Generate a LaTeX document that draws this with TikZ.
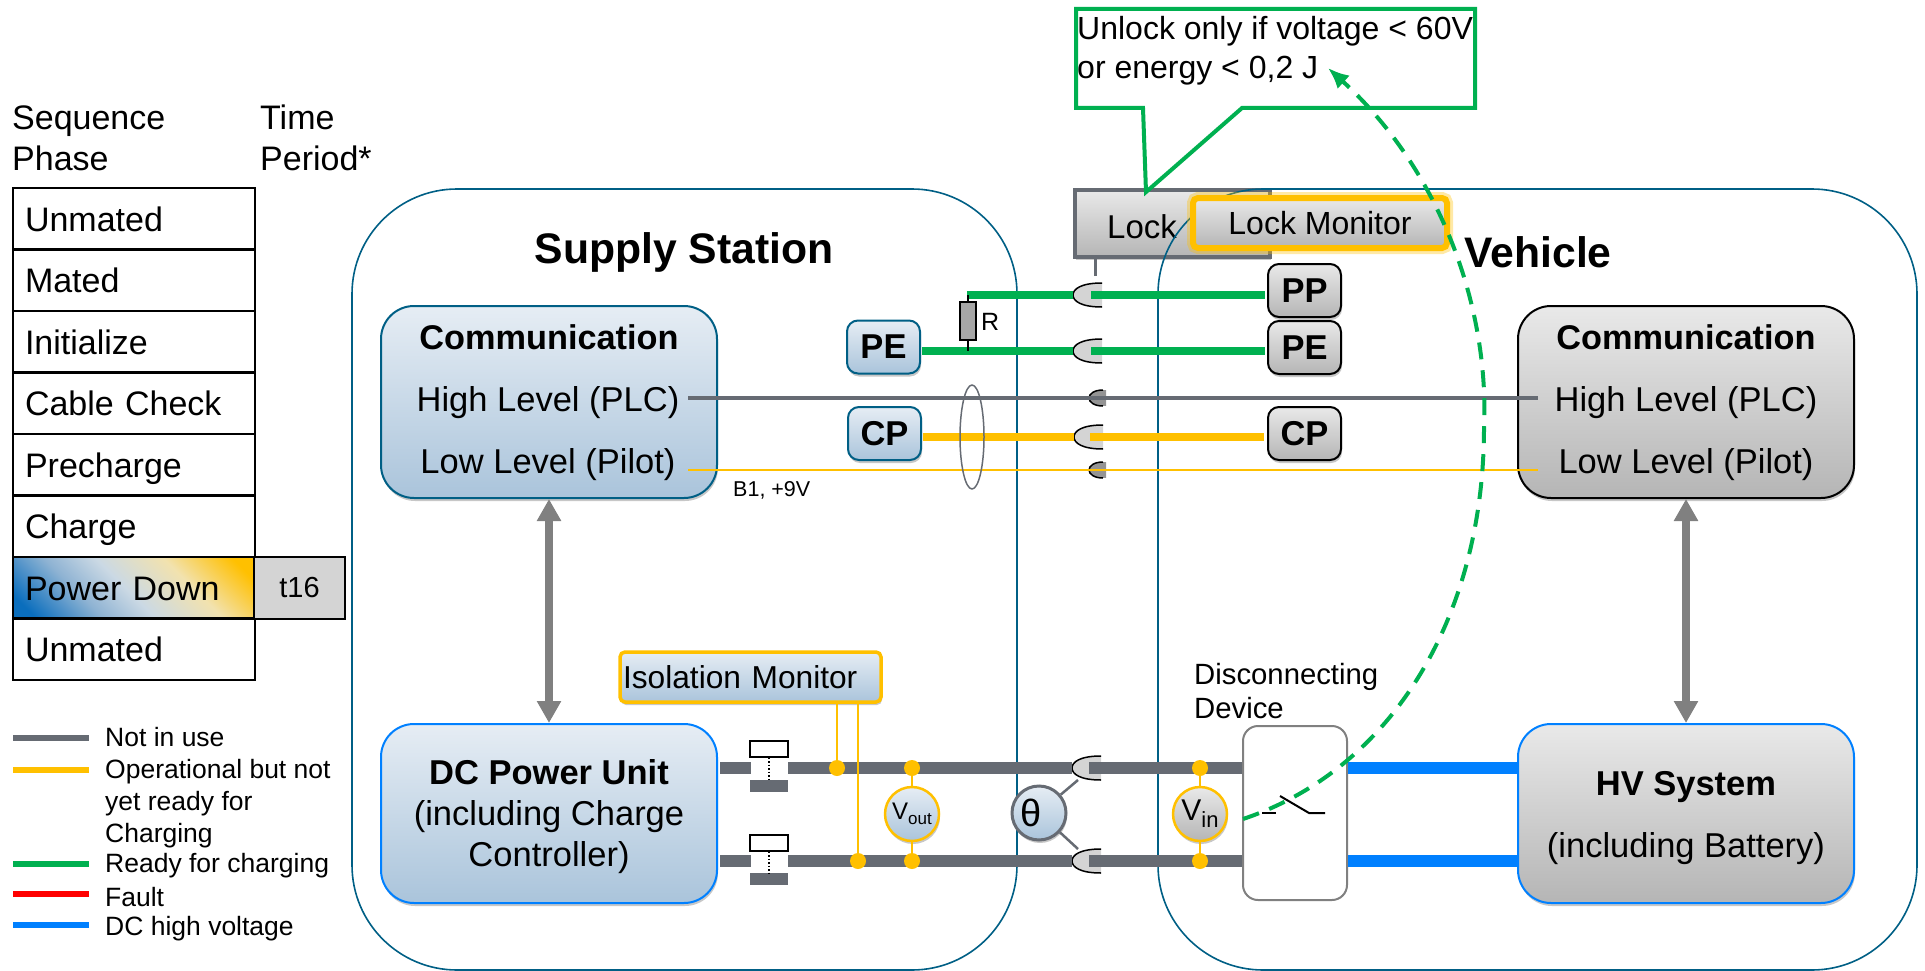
\documentclass[tikz,border=0pt]{standalone}
\usepackage{fontspec}
\setmainfont{Liberation Sans}
\usetikzlibrary{shadows,arrows.meta,shapes.geometric}
\newcommand{\fsize}[1]{\fontsize{#1}{#1}\selectfont}
\definecolor{okgreen}{HTML}{00B050}
\definecolor{opyellow}{HTML}{FFC000}
\definecolor{dcblue}{HTML}{0080FF}
\definecolor{idlegray}{HTML}{666B73}
\definecolor{stationline}{HTML}{005F85}
\definecolor{boxtop}{HTML}{E6EDF4}
\definecolor{boxbot}{HTML}{AAC4DB}
\definecolor{graytop}{HTML}{E9E9E9}
\definecolor{graybot}{HTML}{B5B5B5}
\definecolor{fadeblue}{HTML}{0A6EBD}
\definecolor{fadesky}{HTML}{8FB3D3}
\definecolor{fademid}{HTML}{CBD9E4}
\definecolor{fadecream}{HTML}{F2E2AE}
\pgfdeclarehorizontalshading{powerfade}{100bp}{color(0bp)=(fadeblue); color(20bp)=(fadeblue); color(36bp)=(fadesky); color(48bp)=(fademid); color(64bp)=(fadecream); color(80bp)=(opyellow); color(100bp)=(opyellow)}
\tikzset{x=1pt,y=-1pt,
         softshadow/.style={drop shadow={shadow xshift=1pt,shadow yshift=-3pt,opacity=.22,fill=black}},
         bluefill/.style={top color=boxtop,bottom color=boxbot},
         grayfill/.style={top color=graytop,bottom color=graybot},
         station/.style={draw=stationline,line width=1.6pt,rounded corners=105pt},
         mainbox/.style={rectangle,line width=2pt,rounded corners=33pt,minimum width=336pt,softshadow,align=center},
         pinbox/.style={rectangle,line width=2pt,rounded corners=11pt,minimum width=73pt,minimum height=53pt,
                        font=\fsize{34.5}\bfseries,softshadow},
         seqrow/.style={rectangle,draw=black,line width=2pt,minimum width=242pt,minimum height=61.5pt,
                        text width=218pt,text height=24pt,text depth=0pt,inner xsep=12pt,align=left,anchor=west,font=\fsize{34}},
         plain/.style={inner sep=0pt,anchor=west,align=left},
         thickline/.style={line width=8pt},
         powerline/.style={line width=12pt,draw=idlegray},
         sense/.style={draw=opyellow,line width=2.5pt},
         joint/.style={circle,fill=opyellow,minimum size=16pt,inner sep=0pt},
         meter/.style={circle,line width=2.5pt,minimum size=54pt,inner sep=0pt,softshadow},
         bigarrow/.style={{Triangle[length=22pt,width=23pt]}-{Triangle[length=22pt,width=23pt]},line width=8pt,black!50},
         plug/.pic={\fill[black!17] (29,-12) .. controls (8,-12) and (0,-6) .. (0,0) .. controls (0,6) and (8,12) .. (29,12) -- cycle;
                    \draw[line width=1.5pt] (29,-12) .. controls (8,-12) and (0,-6) .. (0,0) .. controls (0,6) and (8,12) .. (29,12);},
         smallplug/.pic={\fill[black!42] (17,-8) .. controls (5,-8) and (0,-4) .. (0,0) .. controls (0,4) and (5,8) .. (17,8) -- cycle;
                    \draw[line width=1.5pt] (14,-8) .. controls (5,-8) and (0,-4) .. (0,0) .. controls (0,4) and (5,8) .. (14,8);}}
\begin{document}
\begin{tikzpicture}
    \useasboundingbox (0,0) rectangle (1925,971);

    % sequence table
    \node[plain,font=\fsize{34}] (headA) at (12,138) {Sequence\\[7pt]Phase};
    \node[plain,font=\fsize{34}] (headB) at (260,138) {Time\\[7pt]Period*};
    \node[seqrow] (rowA) at (12,219) {Unmated}; \node[seqrow] (rowB) at (12,280) {Mated};
    \node[seqrow] (rowC) at (12,342) {Initialize}; \node[seqrow] (rowD) at (12,403) {Cable Check};
    \node[seqrow] (rowE) at (12,465) {Precharge}; \node[seqrow] (rowF) at (12,526) {Charge};
    \node[seqrow,shade,shading=powerfade,shading angle=45] (rowG) at (12,588) {Power Down};
    \node[seqrow] (rowH) at (12,649) {Unmated};
    \node[rectangle,draw=black,line width=2pt,fill=black!17,minimum width=91pt,minimum height=61.5pt,font=\fsize{29}] (timeG) at (299.5,588) {t16};

    % legend
    \foreach \n/\y/\c in {a/738/idlegray,b/770/opyellow,c/864/okgreen,d/894/red,e/925/dcblue}{
      \coordinate (leg\n L) at (13,\y); \coordinate (leg\n R) at (89,\y);
      \draw[\c,line width=6pt] (leg\n L) -- (leg\n R);
    }
    \node[plain,font=\fsize{26.5}] (legTa) at (105,737) {Not in use};
    \node[plain,font=\fsize{26.5}] (legTb) at (105,804) {Operational but not\\[5.5pt]yet ready for\\[5.5pt]Charging};
    \node[plain,font=\fsize{26.5}] (legTc) at (105,866) {Ready for charging};
    \node[plain,font=\fsize{26.5}] (legTd) at (105,897) {Fault};
    \node[plain,font=\fsize{26.5}] (legTe) at (105,929) {DC high voltage};

    % lock sits behind the vehicle outline
    \node[rectangle,draw=idlegray,line width=4.5pt,top color=graytop,bottom color=graybot,minimum width=195pt,minimum height=67pt,softshadow] (lock) at (1172.5,223.5) {};
    \node[font=\fsize{33}] (lockT) at (1142,227) {Lock};
    \coordinate (lockStem) at (1095,276);
    \draw[idlegray,line width=3pt] (lockStem) -- (1095,257);

    % stations
    \draw[station] (352,189) rectangle (1017,970);
    \draw[station] (1158,189) rectangle (1917,970);
    \node[font=\fsize{42.7}\bfseries] (supT) at (684,252.5) {Supply Station};
    \node[font=\fsize{42.7}\bfseries] (vehT) at (1538,252) {Vehicle};

    % main boxes
    \node[mainbox,draw=stationline,bluefill,minimum height=192pt] (commL) at (549,402) {};
    \node[mainbox,draw=black,grayfill,minimum height=192pt] (commR) at (1686,402) {};
    \node[mainbox,draw=dcblue,bluefill,minimum height=179pt] (dcUnit) at (549,813.5) {};
    \node[mainbox,draw=dcblue,grayfill,minimum height=179pt] (hvSys) at (1686,813.5) {};
    \node[font=\fsize{34.3}\bfseries] (commLT) at (549,337) {Communication};
    \node[font=\fsize{34.3}\bfseries] (commRT) at (1686,337) {Communication};
    \node[font=\fsize{34.5}] (highL) at (548,403) {High Level (PLC)};
    \node[font=\fsize{34.5}] (lowL) at (548,465) {Low Level (Pilot)};
    \node[font=\fsize{34.5}] (highR) at (1686,403) {High Level (PLC)};
    \node[font=\fsize{34.5}] (lowR) at (1686,465) {Low Level (Pilot)};
    \node[align=center,font=\fsize{34.5}] (dcText) at (549,817) {\textbf{DC Power Unit}\\[6.5pt](including Charge\\[6.5pt]Controller)};
    \node[align=center,font=\fsize{34.5}] (hvText) at (1686,818) {\textbf{HV System}\\[28pt](including Battery)};

    \draw[bigarrow] (commL) -- (dcUnit);
    \draw[bigarrow] (commR) -- (hvSys);

    % pin boxes
    \node[pinbox,draw=stationline,bluefill] (peL) at (883.5,347) {PE};
    \node[pinbox,draw=stationline,bluefill] (cpL) at (884.5,433.5) {CP};
    \node[pinbox,draw=black,grayfill] (ppR) at (1304.5,290.5) {PP};
    \node[pinbox,draw=black,grayfill] (peR) at (1304.5,347.5) {PE};
    \node[pinbox,draw=black,grayfill] (cpR) at (1304.5,433.5) {CP};

    % contact points
    \coordinate (plugPP) at (1073,295); \coordinate (plugPE) at (1073,351); \coordinate (plugCP) at (1074,437);
    \coordinate (plugHi) at (1089,398); \coordinate (plugLo) at (1089,470);
    \coordinate (plugTop) at (1072,768); \coordinate (plugBot) at (1072,861);
    \pic at (plugPP) {plug}; \pic at (plugPE) {plug}; \pic at (plugCP) {plug};
    \pic at (plugHi) {smallplug}; \pic at (plugLo) {smallplug};
    \pic at (plugTop) {plug}; \pic at (plugBot) {plug};

    % signal lines
    \coordinate (ppA) at (967,295); \coordinate (ppB) at (1091,295); \coordinate (peB) at (1091,351); \coordinate (cpB) at (1090,437);
    \coordinate (peStart) at (922,351); \coordinate (cpStart) at (923,437);
    \coordinate (ppEnd) at (1265,295); \coordinate (peEnd) at (1265,351); \coordinate (cpEnd) at (1264,437);
    \draw[okgreen,thickline] (ppA) -- (plugPP); \draw[okgreen,thickline] (ppB) -- (ppEnd);
    \draw[okgreen,thickline] (peStart) -- (plugPE); \draw[okgreen,thickline] (peB) -- (peEnd);
    \draw[opyellow,thickline] (cpStart) -- (plugCP); \draw[opyellow,thickline] (cpB) -- (cpEnd);
    \coordinate (hiA) at (688,398); \coordinate (hiB) at (1538,398);
    \coordinate (loA) at (688,470); \coordinate (loB) at (1538,470);
    \draw[idlegray,line width=4.5pt] (hiA) -- (hiB);
    \draw[opyellow,line width=2.2pt] (loA) -- (loB);
    \node[font=\fsize{21.5},plain] (b1) at (733,490) {B1, +9V};

    % resistor and ferrite
    \node[rectangle,draw=black,line width=1.5pt,fill=black!35,minimum width=16pt,minimum height=38pt,inner sep=0pt] (resR) at (968,321) {};
    \coordinate (resTop) at (968,295); \coordinate (resBot) at (968,351);
    \draw[line width=1.5pt] (resTop) -- (resR); \draw[line width=1.5pt] (resR) -- (resBot);
    \node[font=\fsize{25},plain] (resT) at (981,322) {R};
    \node[ellipse,draw=idlegray,line width=1.5pt,minimum width=24pt,minimum height=104pt,inner sep=0pt] (coil) at (972,437) {};

    % power lines
    \coordinate (topA) at (720,768); \coordinate (topB) at (751,768); \coordinate (topC) at (788,768);
    \coordinate (botA) at (720,861); \coordinate (botB) at (751,861); \coordinate (botC) at (788,861);
    \coordinate (topD) at (1089,768); \coordinate (botD) at (1089,861);
    \coordinate (hvTop) at (1518,768); \coordinate (hvBot) at (1518,861);
    \draw[powerline] (topA) -- (topB); \draw[powerline] (botA) -- (botB);
    \draw[powerline] (topC) -- (plugTop); \draw[powerline] (botC) -- (plugBot);

    % contactors
    \node[rectangle,draw=black,line width=1.2pt,fill=white,minimum width=38pt,minimum height=16pt,inner sep=0pt] (conA) at (769,749) {};
    \node[rectangle,fill=idlegray,minimum width=38pt,minimum height=12pt,inner sep=0pt] (conB) at (769,786) {};
    \node[rectangle,draw=black,line width=1.2pt,fill=white,minimum width=38pt,minimum height=16pt,inner sep=0pt] (conC) at (769,843) {};
    \node[rectangle,fill=idlegray,minimum width=38pt,minimum height=12pt,inner sep=0pt] (conD) at (769,879) {};
    \draw[dotted,line width=1.5pt] (conA) -- (conB); \draw[dotted,line width=1.5pt] (conC) -- (conD);

    % disconnecting device
    \node[rectangle,draw=black!50,line width=2pt,fill=white,rounded corners=15pt,minimum width=104pt,minimum height=174pt] (disc) at (1295,813) {};
    \draw[powerline] (topD) -- (disc.west |- topD); \draw[powerline] (botD) -- (disc.west |- botD);
    \draw[dcblue,line width=12pt] (disc.east |- hvTop) -- (hvTop); \draw[dcblue,line width=12pt] (disc.east |- hvBot) -- (hvBot);
    \node[plain,font=\fsize{29.3}] (discT) at (1194,691) {Disconnecting\\[5pt]Device};
    \coordinate (swA) at (1262,813); \coordinate (swB) at (1276,813); \coordinate (swC) at (1280,796); \coordinate (swD) at (1309,813); \coordinate (swE) at (1325,813);
    \draw[line width=2pt] (swA) -- (swB); \draw[line width=2pt] (swC) -- (swD) -- (swE);

    % monitors
    \node[rectangle,draw=opyellow,line width=3.5pt,bluefill,rounded corners=5pt,minimum width=261pt,minimum height=50pt,inner xsep=3pt,text width=255pt,align=left,font=\fsize{31.7},softshadow] (isoMon) at (750.5,677) {Isolation Monitor};
    \node[joint] (jA) at (837,768) {}; \node[joint] (jB) at (858,861) {};
    \node[joint] (jC) at (912,768) {}; \node[joint] (jD) at (912,861) {};
    \node[joint] (jE) at (1200,768) {}; \node[joint] (jF) at (1200,861) {};
    \draw[sense] (isoMon.south -| jA) -- (jA); \draw[sense] (isoMon.south -| jB) -- (jB);
    \node[meter,draw=opyellow,bluefill] (vOut) at (912,814) {\fsize{24}V\raisebox{-5pt}{\fsize{17}out}};
    \node[meter,draw=opyellow,grayfill] (vIn) at (1200,814) {\fsize{30}V\raisebox{-7pt}{\fsize{22}in}};
    \draw[sense] (jC) -- (vOut); \draw[sense] (vOut) -- (jD);
    \draw[sense] (jE) -- (vIn); \draw[sense] (vIn) -- (jF);
    \coordinate (thA) at (1078,780); \coordinate (thB) at (1078,849);
    \node[meter,draw=idlegray,line width=3pt,bluefill,font=\fsize{38}] (theta) at (1039,813) {θ\rule{16pt}{0pt}};
    \draw[idlegray,line width=2.5pt] (theta) -- (thA); \draw[idlegray,line width=2.5pt] (theta) -- (thB);

    % lock monitor with its glow
    \node[rectangle,draw=opyellow,line width=6pt,preaction={draw=opyellow,line width=12pt,opacity=.35},top color=graytop,bottom color=graybot,rounded corners=5pt,minimum width=254pt,minimum height=50pt,font=\fsize{32}] (lockMon) at (1320,223) {Lock Monitor};

    % callout
    \node[plain,font=\fsize{32}] (noteT) at (1077,51) {Unlock only if voltage < 60V\\[7pt]or energy < 0,2 J};
    \draw[okgreen,line width=4pt] (1076,9) -- (1475,9) -- (1475,108) -- (1242,108) -- (1146,192) -- (1143,108) -- (1076,108) -- cycle;

    % dashed link
    \coordinate (dashA) at (1243,819); \coordinate (dashB) at (1484,430); \coordinate (dashC) at (1328,68);
    \draw[okgreen,line width=4pt,dash pattern=on 17pt off 11pt,-{Latex[length=21pt,width=18pt]}] (dashA) .. controls (1390,770) and (1483,620) .. (dashB) .. controls (1490,300) and (1435,165) .. (dashC);
\end{tikzpicture}
\end{document}
